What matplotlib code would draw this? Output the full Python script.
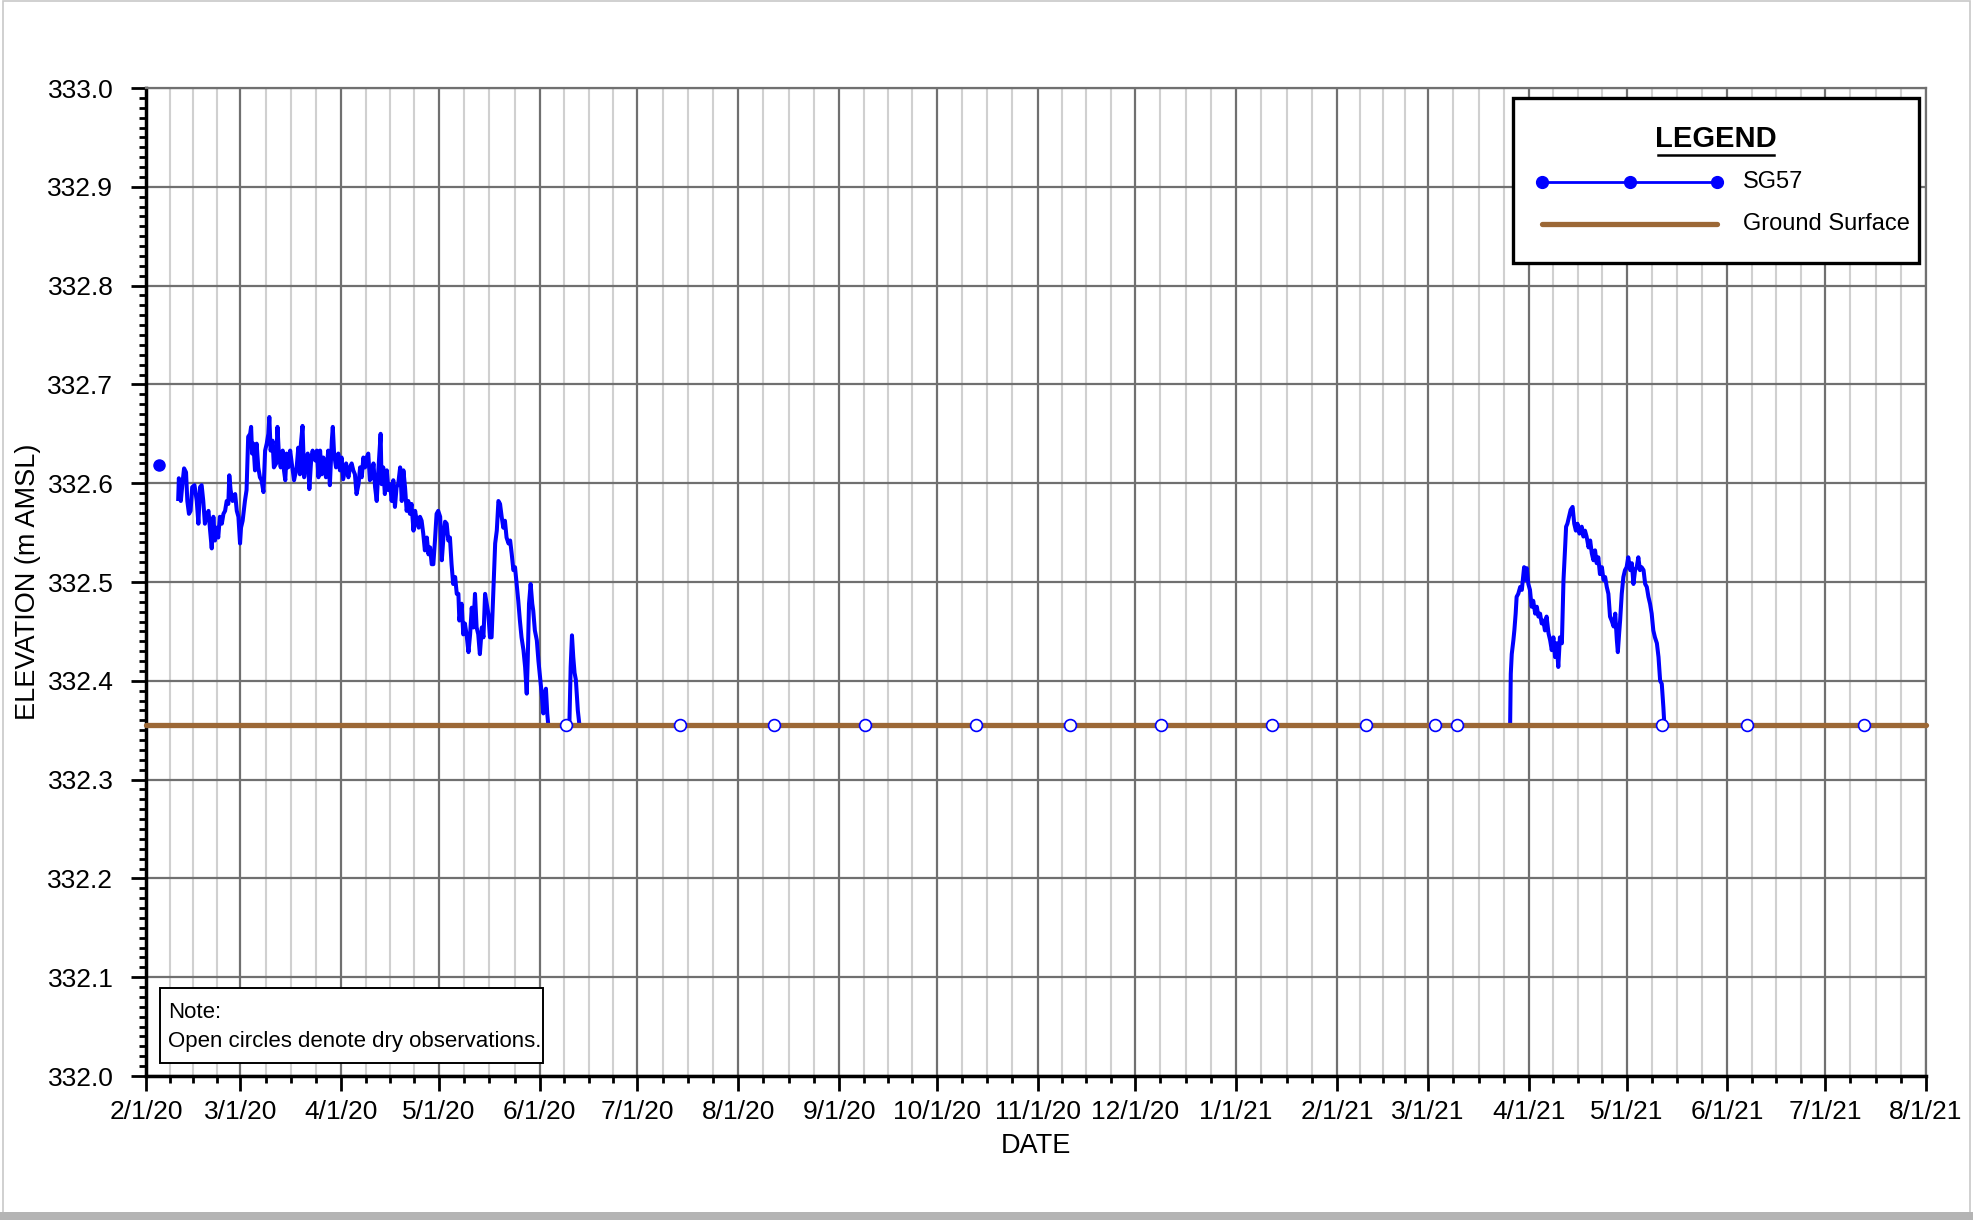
import numpy as np
import pandas as pd
import matplotlib
matplotlib.use("Agg")
import matplotlib.pyplot as plt
import matplotlib.dates as mdates
from matplotlib.patches import Rectangle
from matplotlib.lines import Line2D
from matplotlib.ticker import FixedLocator, MultipleLocator, FuncFormatter

FONT = ["Liberation Sans", "DejaVu Sans"]

# ---------------- data ----------------
start_date = "2020-02-01"
end_date = "2021-08-01"
ground_elev = 332.355

first_obs_date = ["2020-02-05"]
first_obs_elev = [332.618]

dry_dates = ["2020-06-09", "2020-07-14", "2020-08-12", "2020-09-09", "2020-10-13",
             "2020-11-11", "2020-12-09", "2021-01-12", "2021-02-10", "2021-03-03",
             "2021-03-10", "2021-05-12", "2021-06-07", "2021-07-13"]
dry_elev = [332.355] * len(dry_dates)

# logger trace, part 1 (days after 2020-02-01)
seg1_day = [9.9, 10.1, 10.7, 11.3, 11.7, 12.3, 12.7, 13.2, 13.7, 14.2, 14.9, 15.6, 16.1, 16.6,
            17.1, 17.6, 18.1, 18.6, 19.2, 19.7, 20.2, 20.7, 21.2, 21.7, 22.2, 22.7, 23.3, 23.8,
            24.3, 24.8, 25.3, 25.6, 26.0, 26.6, 27.4, 27.9, 28.4, 28.9, 29.2, 29.7, 30.4, 30.9,
            31.4, 32.0, 32.3, 32.6, 33.0, 33.5, 34.0, 34.5, 35.0, 35.5, 36.1, 36.6, 37.1, 37.6,
            37.9, 38.3, 38.9, 39.3, 40.0, 40.4, 40.9, 41.4, 42.0, 42.4, 42.8, 43.2, 43.7, 44.3,
            44.8, 45.5, 46.3, 46.8, 47.3, 47.6, 48.1, 48.6, 49.2, 49.7, 50.2, 50.8, 51.2, 52.0,
            52.5, 53.0, 53.5, 54.0, 54.5, 55.3, 56.0, 56.5, 57.1, 57.4, 57.8, 58.4, 59.1, 59.6,
            60.1, 60.6, 61.5, 62.2, 62.7, 63.2, 63.7, 64.2, 64.7, 65.3, 65.8, 66.3, 66.8, 67.3,
            67.8, 68.3, 68.8, 69.4, 69.9, 70.4, 70.9, 71.4, 72.1, 72.4, 72.9, 73.4, 74.0, 74.5,
            75.0, 75.5, 76.0, 76.5, 77.0, 77.5, 78.1, 78.6, 79.1, 79.6, 80.1, 80.6, 81.1, 81.6,
            82.2, 82.7, 83.2, 83.8, 84.2, 84.7, 85.2, 85.7, 86.3, 86.8, 87.3, 87.8, 88.3, 88.8,
            89.3, 89.8, 90.4, 90.9, 91.4, 91.9, 92.4, 92.9, 93.4, 93.9, 94.4, 95.0, 95.5, 96.0,
            96.3, 97.0, 97.5, 98.0, 98.5, 99.1, 99.6, 100.1, 100.6, 101.1, 101.6, 102.1, 102.6,
            103.2, 103.7, 104.2, 104.7, 105.2, 105.7, 106.2, 106.7, 107.3, 107.8, 108.3, 108.8,
            109.3, 109.8, 110.3, 110.8, 111.4, 111.9, 112.4, 112.9, 113.4, 113.9, 114.4, 114.9,
            115.4, 116.0, 116.5, 117.0, 117.3, 117.7, 118.2, 118.7, 119.0, 119.5, 120.1, 120.6,
            121.1, 121.6, 122.1, 122.5, 122.9, 123.3, 123.6]
seg1_elev = [332.584, 332.605, 332.582, 332.603, 332.615, 332.611, 332.582, 332.569, 332.572,
             332.596, 332.598, 332.582, 332.559, 332.596, 332.598, 332.582, 332.559, 332.567,
             332.572, 332.552, 332.534, 332.566, 332.542, 332.555, 332.545, 332.566, 332.559,
             332.569, 332.572, 332.582, 332.579, 332.608, 332.593, 332.582, 332.589, 332.572,
             332.566, 332.539, 332.555, 332.562, 332.582, 332.593, 332.647, 332.650, 332.657,
             332.630, 332.640, 332.613, 332.640, 332.616, 332.606, 332.603, 332.591, 332.633,
             332.640, 332.650, 332.667, 332.633, 332.643, 332.616, 332.620, 332.657, 332.626,
             332.616, 332.633, 332.613, 332.603, 332.630, 332.616, 332.633, 332.620, 332.603,
             332.616, 332.636, 332.609, 332.640, 332.658, 332.606, 332.623, 332.630, 332.594,
             332.626, 332.633, 332.623, 332.633, 332.606, 332.633, 332.609, 332.626, 332.606,
             332.633, 332.598, 332.643, 332.657, 332.630, 332.616, 332.630, 332.613, 332.626,
             332.604, 332.620, 332.606, 332.616, 332.620, 332.613, 332.609, 332.589, 332.599,
             332.616, 332.606, 332.626, 332.616, 332.626, 332.630, 332.603, 332.606, 332.620,
             332.596, 332.582, 332.613, 332.650, 332.599, 332.616, 332.589, 332.613, 332.593,
             332.599, 332.582, 332.603, 332.576, 332.596, 332.599, 332.616, 332.582, 332.613,
             332.596, 332.572, 332.582, 332.569, 332.579, 332.552, 332.572, 332.562, 332.555,
             332.566, 332.562, 332.549, 332.532, 332.545, 332.528, 332.535, 332.518, 332.518,
             332.542, 332.569, 332.572, 332.566, 332.522, 332.545, 332.561, 332.559, 332.542,
             332.545, 332.518, 332.498, 332.505, 332.488, 332.488, 332.461, 332.478, 332.447,
             332.458, 332.447, 332.429, 332.447, 332.474, 332.454, 332.488, 332.454, 332.447,
             332.427, 332.454, 332.444, 332.488, 332.478, 332.468, 332.444, 332.444, 332.488,
             332.539, 332.552, 332.582, 332.579, 332.566, 332.555, 332.562, 332.545, 332.539,
             332.542, 332.528, 332.512, 332.515, 332.498, 332.481, 332.461, 332.444, 332.431,
             332.414, 332.387, 332.420, 332.478, 332.498, 332.478, 332.471, 332.451, 332.441,
             332.420, 332.404, 332.387, 332.367, 332.387, 332.392, 332.367, 332.356]

# short rise in June 2020
spike_day = [130.1, 130.5, 130.9, 131.3, 131.7, 132.1, 132.7, 133.2]
spike_elev = [332.355, 332.414, 332.446, 332.424, 332.408, 332.401, 332.370, 332.355]

# logger trace, spring 2021
seg2_day = [419.2, 419.4, 419.7, 420.2, 420.5, 420.9, 421.2, 421.7, 422.3, 422.8, 423.1, 423.5,
            423.9, 424.3, 424.8, 425.3, 425.8, 426.3, 426.9, 427.4, 427.9, 428.4, 428.9, 429.4,
            429.9, 430.4, 431.0, 431.5, 432.0, 432.5, 433.0, 433.5, 434.0, 434.5, 435.1, 435.6,
            436.1, 436.4, 436.8, 437.3, 437.8, 438.4, 438.9, 439.4, 439.9, 440.5, 441.2, 441.7,
            442.2, 442.7, 443.3, 443.8, 444.3, 444.8, 445.3, 445.8, 446.3, 446.8, 447.4, 447.9,
            448.4, 448.9, 449.4, 449.9, 450.4, 451.0, 451.5, 452.0, 452.3, 452.7, 453.0, 453.5,
            454.0, 454.5, 455.0, 455.5, 456.1, 456.6, 457.1, 457.6, 458.1, 458.6, 459.1, 459.6,
            460.2, 460.7, 461.2, 461.7, 462.2, 462.7, 463.2, 463.7, 464.3, 464.8, 465.3, 465.8,
            466.3, 466.6]
seg2_elev = [332.355, 332.407, 332.427, 332.441, 332.451, 332.468, 332.485, 332.488, 332.495,
             332.492, 332.502, 332.515, 332.502, 332.514, 332.498, 332.492, 332.475, 332.481,
             332.468, 332.475, 332.465, 332.468, 332.458, 332.461, 332.451, 332.465, 332.448,
             332.441, 332.431, 332.444, 332.424, 332.438, 332.414, 332.444, 332.438, 332.502,
             332.535, 332.556, 332.559, 332.566, 332.573, 332.576, 332.559, 332.552, 332.559,
             332.549, 332.556, 332.546, 332.552, 332.546, 332.535, 332.542, 332.529, 332.522,
             332.532, 332.519, 332.525, 332.508, 332.515, 332.502, 332.505, 332.495, 332.488,
             332.465, 332.461, 332.455, 332.468, 332.441, 332.429, 332.448, 332.461, 332.488,
             332.505, 332.512, 332.515, 332.525, 332.512, 332.519, 332.498, 332.512, 332.515,
             332.525, 332.512, 332.515, 332.512, 332.498, 332.495, 332.485, 332.478, 332.468,
             332.451, 332.444, 332.438, 332.424, 332.400, 332.397, 332.373, 332.355]

y_min, y_max = 332.0, 333.0
y_ticks = [332.0, 332.1, 332.2, 332.3, 332.4, 332.5, 332.6, 332.7, 332.8, 332.9, 333.0]

# ---------------- figure ----------------
W, H = 1974, 1220
fig = plt.figure(figsize=(W / 100, H / 100), dpi=100)
fig.patch.set_facecolor("white")

ax = fig.add_axes([146 / W, 1 - 1076 / H, (1926 - 146) / W, (1076 - 88) / H])

base = pd.Timestamp(start_date)
def to_dates(days):
    return base + pd.to_timedelta(np.asarray(days, dtype=float), unit="D")

BLUE = "#0000FF"
BROWN = "#9C6836"

for d, v in [(seg1_day, seg1_elev), (spike_day, spike_elev), (seg2_day, seg2_elev)]:
    ax.plot(to_dates(d), v, color=BLUE, lw=2.9, solid_joinstyle="round", zorder=3)

x0, x1 = pd.Timestamp(start_date), pd.Timestamp(end_date)
ax.plot([x0, x1], [ground_elev, ground_elev], color=BROWN, lw=3.8,
        solid_capstyle="round", zorder=4, clip_on=False)

ax.plot(pd.to_datetime(first_obs_date), first_obs_elev, "o", color=BLUE, ms=8, zorder=5)
ax.plot(pd.to_datetime(dry_dates), dry_elev, "o", mfc="white", mec=BLUE, mew=1.2,
        ms=8.5, ls="none", zorder=6, clip_on=False)

ax.set_xlim(x0, x1)
ax.set_ylim(y_min, y_max)

months = pd.date_range(start_date, end_date, freq="MS")
ax.xaxis.set_major_locator(FixedLocator(mdates.date2num(months)))
minor = []
for a, b in zip(months[:-1], months[1:]):
    span = (b - a)
    for k in (1, 2, 3):
        minor.append(a + span * k / 4)
ax.xaxis.set_minor_locator(FixedLocator(mdates.date2num(minor)))
ax.xaxis.set_major_formatter(FuncFormatter(
    lambda x, p: (lambda d: f"{d.month}/{d.day}/{d.year % 100:02d}")(mdates.num2date(x))))

ax.yaxis.set_major_locator(FixedLocator(y_ticks))
ax.yaxis.set_minor_locator(MultipleLocator(0.01))
ax.yaxis.set_major_formatter(FuncFormatter(lambda y, p: f"{y:.1f}"))

ax.tick_params(which="major", direction="out", length=10.5, width=2, color="black",
               labelsize=19, labelfontfamily="Liberation Sans", labelcolor="black")
ax.tick_params(which="minor", direction="out", length=5, width=2, color="black")
ax.tick_params(axis="y", which="major", pad=13)
ax.tick_params(axis="x", which="major", pad=7)

ax.grid(which="major", axis="both", color="#707070", lw=1.6)
ax.grid(which="minor", axis="x", color="#d0d0d0", lw=1.5)
ax.set_axisbelow(True)

for s in ("left", "bottom"):
    ax.spines[s].set_linewidth(2.5)
    ax.spines[s].set_color("black")
for s in ("top", "right"):
    ax.spines[s].set_linewidth(1.6)
    ax.spines[s].set_color("#707070")

fig.text(1036 / W, 1 - 1146 / H, "DATE", ha="center", va="center",
         fontfamily=FONT, fontsize=19.5)
fig.text(28 / W, 1 - 582 / H, "ELEVATION (m AMSL)", ha="center", va="center",
         rotation=90, fontfamily=FONT, fontsize=19.5)

# ---------------- overlay: frame, legend and note ----------------
ov = fig.add_axes([0, 0, 1, 1], zorder=10)
ov.set_xlim(0, W)
ov.set_ylim(H, 0)
ov.axis("off")
ov.patch.set_alpha(0)

ov.add_patch(Rectangle((3, 1), 1967, 1212, fill=False, ec="#c8c8c8", lw=1.2))
ov.add_patch(Rectangle((0, 1212), W, 8, fc="#b4b4b4", ec="none"))

# legend box
ov.add_patch(Rectangle((1513, 98), 406, 165, fc="white", ec="black", lw=2.4))
ov.text(1716, 139, "LEGEND", ha="center", va="center", fontsize=21,
        fontweight="bold", fontfamily=FONT)
ov.add_line(Line2D([1658, 1774], [155, 155], color="black", lw=1.8))
ov.add_line(Line2D([1542, 1717], [182, 182], color=BLUE, lw=2.0))
ov.add_line(Line2D([1542, 1630, 1717], [182, 182, 182], color=BLUE, lw=0,
                   marker="o", ms=8.5))
ov.text(1743, 182, "SG57", ha="left", va="center", fontsize=17, fontfamily=FONT)
ov.add_line(Line2D([1542, 1717], [224, 224], color=BROWN, lw=3.8, solid_capstyle="round"))
ov.text(1743, 224, "Ground Surface", ha="left", va="center", fontsize=17,
        fontfamily=FONT)

# note box
ov.add_patch(Rectangle((160, 988), 383, 75, fc="white", ec="black", lw=1.4))
ov.text(168, 1012, "Note:", ha="left", va="center", fontsize=16, fontfamily=FONT)
ov.text(168, 1042, "Open circles denote dry observations.", ha="left", va="center",
        fontsize=16, fontfamily=FONT)

fig.savefig("out.png", dpi=100, facecolor="white")
